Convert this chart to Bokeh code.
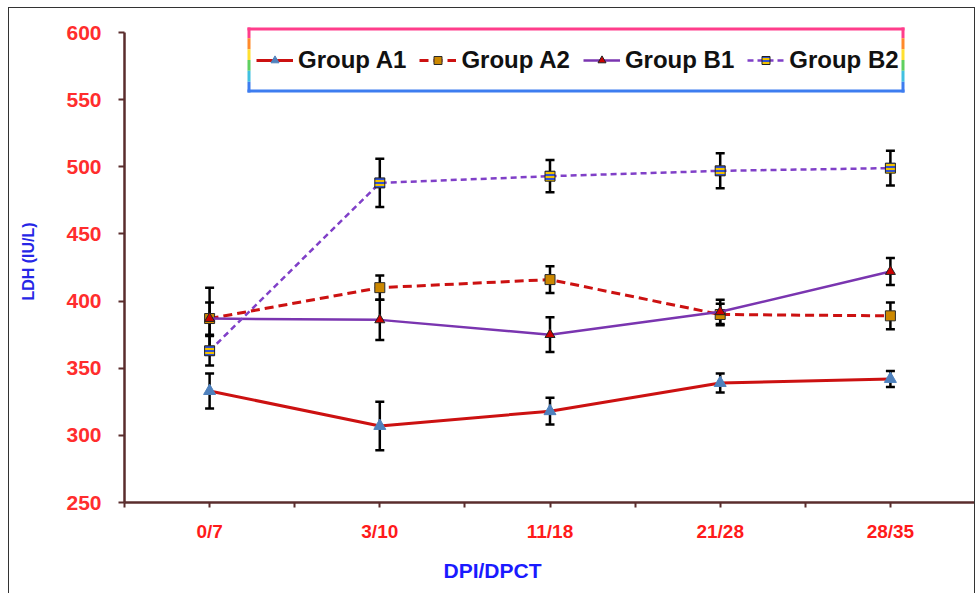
from bokeh.plotting import figure
from bokeh.models import (ColumnDataSource, Whisker, TeeHead, Legend, LegendItem,
                          FixedTicker, BoxAnnotation, Title, Range1d, InlineStyleSheet)
from bokeh.embed import file_html
from bokeh.resources import INLINE

categories = ["0/7", "3/10", "11/18", "21/28", "28/35"]
group_a1 = [333, 307, 318, 339, 342]
group_a1_err = [13, 18, 10, 7, 6]
group_a2 = [387, 410, 416, 390, 389]
group_a2_err = [12, 9, 10, 8, 10]
group_b1 = [387, 386, 375, 392, 422]
group_b1_err = [23, 15, 13, 9, 10]
group_b2 = [363, 488, 493, 497, 499]
group_b2_err = [11, 18, 12, 13, 13]
y_ticks = [250, 300, 350, 400, 450, 500, 550, 600]

AXIS_COL = "#5a2d2d"

# frame: x 124..975, y 20..502 ; value 600 sits at y=32
Y_MIN, Y_MAX = 250, 600
FRAME_H = 482
PX_PER_UNIT = 470 / (Y_MAX - Y_MIN)
y_top = Y_MIN + FRAME_H / PX_PER_UNIT

p = figure(width=975, height=593, output_backend="svg", toolbar_location=None,
           x_range=Range1d(-0.5, len(categories) - 0.5), y_range=Range1d(Y_MIN, y_top),
           min_border_left=124, min_border_top=20, min_border_bottom=91,
           min_border_right=0)
p.title.visible = False
p.outline_line_color = None
p.xgrid.visible = False
p.ygrid.visible = False
p.background_fill_color = "white"
p.border_fill_color = "white"
p.stylesheets = [InlineStyleSheet(css=(
    ":host::after { content: ''; position: absolute; left: 8px; top: 7px; right: 0px; "
    "bottom: 0px; border: 1px solid #333; border-bottom: none; pointer-events: none; }"
))]

xs = list(range(len(categories)))

# X axis
p.xaxis.ticker = FixedTicker(ticks=xs, minor_ticks=[i - 0.5 for i in range(len(categories) + 1)])
p.xaxis.major_label_overrides = {i: c for i, c in enumerate(categories)}
p.xaxis.axis_line_color = AXIS_COL
p.xaxis.axis_line_width = 2.5
p.xaxis.major_tick_line_color = AXIS_COL
p.xaxis.minor_tick_line_color = AXIS_COL
p.xaxis.major_tick_line_width = 2
p.xaxis.minor_tick_line_width = 2
p.xaxis.major_tick_in = 0
p.xaxis.major_tick_out = 5
p.xaxis.minor_tick_in = 0
p.xaxis.minor_tick_out = 5
p.xaxis.major_label_text_font = "Liberation Sans"
p.xaxis.major_label_text_font_style = "bold"
p.xaxis.major_label_text_font_size = "19px"
p.xaxis.major_label_text_color = "#ff1a1a"
p.xaxis.major_label_standoff = 13

# Y axis
p.yaxis.ticker = FixedTicker(ticks=y_ticks)
p.yaxis.bounds = (Y_MIN, Y_MAX)
p.yaxis.axis_line_color = AXIS_COL
p.yaxis.axis_line_width = 2.5
p.yaxis.major_tick_line_color = AXIS_COL
p.yaxis.major_tick_line_width = 2
p.yaxis.major_tick_in = 0
p.yaxis.major_tick_out = 6
p.yaxis.minor_tick_line_color = None
p.yaxis.major_label_text_font = "Liberation Sans"
p.yaxis.major_label_text_font_style = "bold"
p.yaxis.major_label_text_font_size = "21px"
p.yaxis.major_label_text_color = "#ff2d2d"
p.yaxis.major_label_standoff = 17
p.yaxis.axis_label = "LDH (IU/L)"
p.yaxis.axis_label_text_font = "Liberation Sans"
p.yaxis.axis_label_text_font_style = "bold"
p.yaxis.axis_label_text_font_size = "16px"
p.yaxis.axis_label_text_color = "#2626e6"
p.yaxis.axis_label_standoff = 26

series = [
    ("Group A1", group_a1, group_a1_err, dict(line_color="#cc1111", line_width=3, line_dash="solid"),
     dict(marker="triangle", size=12, fill_color="#4f81bd", line_color="#4f81bd")),
    ("Group A2", group_a2, group_a2_err, dict(line_color="#cc1111", line_width=3, line_dash="9 5"),
     dict(marker="square", size=10, fill_color="#cc8800", line_color="#2a2a2a")),
    ("Group B1", group_b1, group_b1_err, dict(line_color="#7a35b0", line_width=2.5, line_dash="solid"),
     dict(marker="triangle", size=10, fill_color="#cc0000", line_color="#222222")),
    ("Group B2", group_b2, group_b2_err, dict(line_color="#8040c8", line_width=2.5, line_dash="6 4"),
     dict(marker="square", size=10, fill_color="#f2c200", line_color="#222222",
          hatch_pattern="horizontal_line", hatch_color="#3050d0", hatch_scale=4, hatch_weight=2)),
]

items = []
for name, vals, errs, lstyle, mstyle in series:
    src = ColumnDataSource(dict(
        x=xs, y=vals,
        upper=[v + e for v, e in zip(vals, errs)],
        lower=[v - e for v, e in zip(vals, errs)],
    ))
    lr = p.line("x", "y", source=src, **lstyle)
    wk = Whisker(source=src, base="x", upper="upper", lower="lower",
                 line_color="black", line_width=2.5,
                 upper_head=TeeHead(size=9, line_width=2.5, line_color="black"),
                 lower_head=TeeHead(size=9, line_width=2.5, line_color="black"))
    p.add_layout(wk)
    mr = p.scatter("x", "y", source=src, **mstyle)
    items.append(LegendItem(label=name, renderers=[lr, mr]))

legend = Legend(items=items, orientation="horizontal", location=(132, 428),
                glyph_width=37, glyph_height=20, label_standoff=5, spacing=13,
                padding=0, margin=0,
                label_text_font="Liberation Sans", label_text_font_style="bold",
                label_text_font_size="24px", label_text_color="#111111",
                background_fill_alpha=0, border_line_alpha=0)
p.add_layout(legend)

# rainbow frame around the legend (screen units relative to plot frame bottom-left)
fl, fr, fb, ft, th = 123, 780, 410, 475, 3
p.add_layout(BoxAnnotation(left=fl, right=fr, top=ft, bottom=ft - th,
                           left_units="screen", right_units="screen",
                           top_units="screen", bottom_units="screen",
                           fill_color="#ff3d8b", fill_alpha=1, line_alpha=0))
p.add_layout(BoxAnnotation(left=fl, right=fr, top=fb + th, bottom=fb,
                           left_units="screen", right_units="screen",
                           top_units="screen", bottom_units="screen",
                           fill_color="#3d7df0", fill_alpha=1, line_alpha=0))
side_cols = ["#ff3d8b", "#ff8a2a", "#ffe030", "#5fd05f", "#40c0e0", "#3d7df0"]
seg = (ft - fb) / len(side_cols)
for i, c in enumerate(side_cols):
    top = ft - i * seg
    for lx in (fl, fr - th):
        p.add_layout(BoxAnnotation(left=lx, right=lx + th, top=top, bottom=top - seg,
                                   left_units="screen", right_units="screen",
                                   top_units="screen", bottom_units="screen",
                                   fill_color=c, fill_alpha=1, line_alpha=0))

p.add_layout(Title(text="DPI/DPCT", align="left", offset=319, standoff=24,
                   text_font="Liberation Sans", text_font_style="bold",
                   text_font_size="21px", text_color="#1a1aff"), "below")

open("out.html", "w").write(file_html(p, INLINE))
